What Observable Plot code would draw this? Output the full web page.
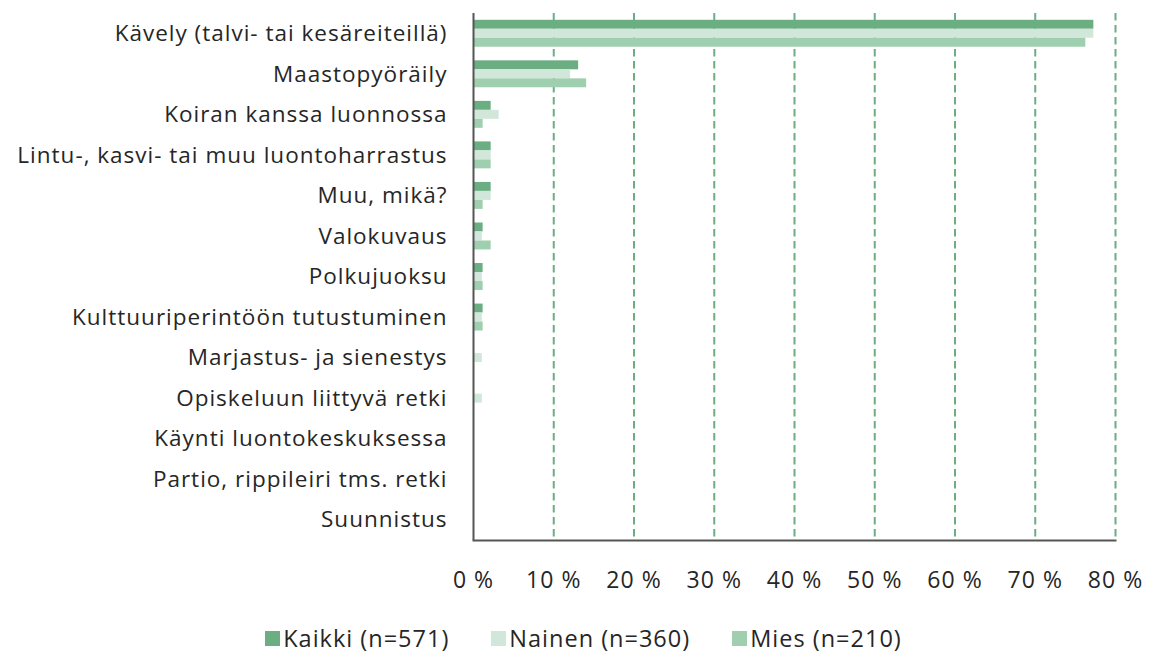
<!DOCTYPE html>
<html>
<head>
<meta charset="utf-8">
<script src="https://cdn.jsdelivr.net/npm/d3@7"></script>
<script src="https://cdn.jsdelivr.net/npm/@observablehq/plot@0.6"></script>
<style>
  body { margin: 0; background: #fff; font-family: "Open Sans", sans-serif; }
  #legend { display: flex; justify-content: center; gap: 42px; font-size: 23.5px; letter-spacing: 1px; color: #262626; margin-top: 22px; padding-left: 14px; }
  #legend .item { display: flex; align-items: center; }
  #legend .sw { width: 15px; height: 15px; margin-right: 3px; display: inline-block; }
</style>
</head>
<body>
<div id="chart"></div>
<div id="legend"></div>
<script>
const categories = [
  "Kävely (talvi- tai kesäreiteillä)",
  "Maastopyöräily",
  "Koiran kanssa luonnossa",
  "Lintu-, kasvi- tai muu luontoharrastus",
  "Muu, mikä?",
  "Valokuvaus",
  "Polkujuoksu",
  "Kulttuuriperintöön tutustuminen",
  "Marjastus- ja sienestys",
  "Opiskeluun liittyvä retki",
  "Käynti luontokeskuksessa",
  "Partio, rippileiri tms. retki",
  "Suunnistus"
];
const kaikki = [77.3, 13.1, 2.2, 2.2, 2.2, 1.2, 1.2, 1.2, 0, 0, 0, 0, 0];
const nainen = [77.3, 12.1, 3.2, 2.2, 2.2, 1.1, 1.1, 1.1, 1.1, 1.1, 0, 0, 0];
const mies   = [76.3, 14.1, 1.2, 2.2, 1.2, 2.2, 1.2, 1.2, 0, 0, 0, 0, 0];
const seriesNames = ["Kaikki (n=571)", "Nainen (n=360)", "Mies (n=210)"];
const seriesColors = ["#6aae82", "#d0e7da", "#9fcfae"];
const xTicks = [0, 10, 20, 30, 40, 50, 60, 70, 80];

const seriesValues = [kaikki, nainen, mies];
const offsets = [-9, 0, 9];

const data = seriesValues.map(vals => categories.map((c, i) => ({category: c, value: vals[i]})));

const plot = Plot.plot({
  width: 1153,
  height: 600,
  marginLeft: 473,
  marginRight: 38,
  marginTop: 13,
  marginBottom: 60,
  style: { fontFamily: "Open Sans, sans-serif", fontSize: "22.5px", letterSpacing: "1px", color: "#262626", background: "#fff" },
  x: { domain: [0, 80], ticks: xTicks },
  y: { domain: categories, padding: 0, round: false },
  marks: [
    Plot.ruleX(xTicks.filter(d => d > 0), { stroke: "#6aae82", strokeWidth: 2, strokeDasharray: "7.5,4.5" }),
    ...data.map((d, k) => Plot.barX(d, {
      x: "value", y: "category", fill: seriesColors[k],
      insetTop: 15.8, insetBottom: 15.8, dy: offsets[k]
    })),
    Plot.ruleX([0], { stroke: "#555", strokeWidth: 2 }),
    Plot.frame({ anchor: "bottom", stroke: "#555", strokeWidth: 2 }),
    Plot.axisY({ tickSize: 0, tickPadding: 26, label: null, fontSize: 22.5 }),
    Plot.axisX({ ticks: xTicks, tickSize: 0, tickPadding: 31, label: null, tickFormat: d => d + " %", fontSize: 23 })
  ]
});
document.getElementById("chart").appendChild(plot);

const legend = document.getElementById("legend");
seriesNames.forEach((n, k) => {
  const item = document.createElement("div");
  item.className = "item";
  const sw = document.createElement("span");
  sw.className = "sw";
  sw.style.background = seriesColors[k];
  item.appendChild(sw);
  item.appendChild(document.createTextNode(n));
  legend.appendChild(item);
});
</script>
</body>
</html>
